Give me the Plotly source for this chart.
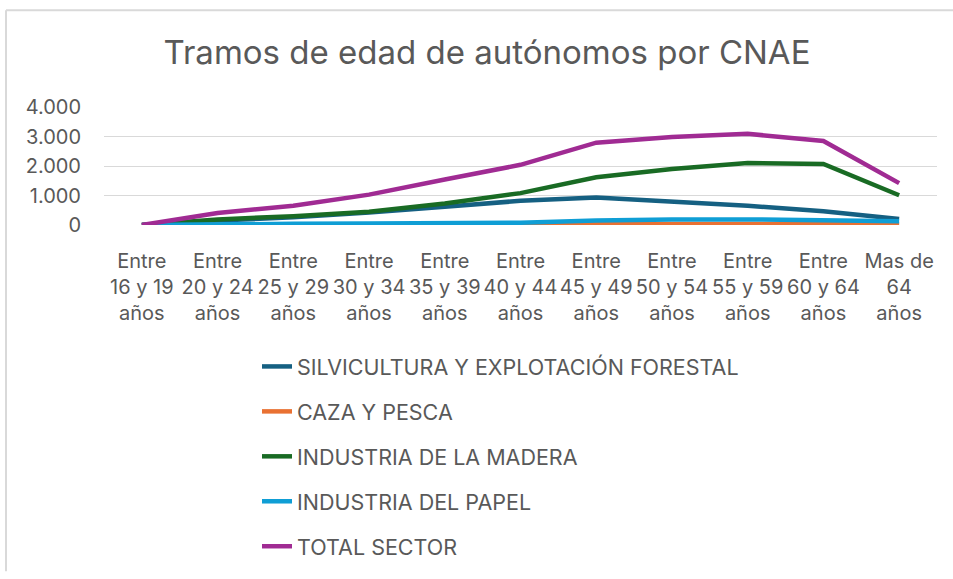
import plotly.graph_objects as go

categories = ["Entre<br>16 y 19<br>años", "Entre<br>20 y 24<br>años", "Entre<br>25 y 29<br>años",
              "Entre<br>30 y 34<br>años", "Entre<br>35 y 39<br>años", "Entre<br>40 y 44<br>años",
              "Entre<br>45 y 49<br>años", "Entre<br>50 y 54<br>años", "Entre<br>55 y 59<br>años",
              "Entre<br>60 y 64<br>años", "Mas de<br>64<br>años"]

silvicultura = [0, 150, 260, 420, 620, 820, 930, 800, 650, 470, 200]
caza_pesca = [0, 5, 10, 15, 20, 25, 35, 45, 45, 40, 15]
madera = [0, 190, 300, 450, 730, 1080, 1620, 1900, 2100, 2070, 1010]
papel = [0, 30, 40, 50, 60, 80, 150, 190, 190, 170, 130]
total = [0, 410, 655, 1030, 1540, 2040, 2790, 2980, 3090, 2850, 1420]

series = [
    ("SILVICULTURA Y EXPLOTACIÓN FORESTAL", silvicultura, "#156082"),
    ("CAZA Y PESCA", caza_pesca, "#E97132"),
    ("INDUSTRIA DE LA MADERA", madera, "#196B24"),
    ("INDUSTRIA DEL PAPEL", papel, "#0F9ED5"),
    ("TOTAL SECTOR", total, "#A02B93"),
]

fig = go.Figure()
for name, vals, col in series:
    fig.add_trace(go.Scatter(x=categories, y=vals, name=name, mode="lines",
                             line=dict(color=col, width=4.5), legendgroup=name))

txt = "#595959"
W, H = 953, 579
L, R, T, B = 104, 16, 107, 352
pw, ph = W - L - R, H - T - B

def px_x(p):
    return (p - L) / pw

def px_y(p):
    return (H - B - p) / ph

border = "#D9D9D9"
fig.add_shape(type="line", xref="paper", yref="paper", x0=px_x(6), x1=px_x(953),
              y0=px_y(8.5), y1=px_y(8.5), line=dict(color=border, width=2))
fig.add_shape(type="line", xref="paper", yref="paper", x0=px_x(6), x1=px_x(6),
              y0=px_y(8.5), y1=px_y(579), line=dict(color=border, width=2))

fig.update_layout(
    width=W, height=H,
    paper_bgcolor="white", plot_bgcolor="white",
    separators=",.",
    margin=dict(l=L, r=R, t=T, b=B),
    font=dict(family="Inter, Lato, sans-serif", color=txt, size=20),
    title=dict(text="Tramos de edad de autónomos por CNAE", xref="container", x=487 / W,
               xanchor="center", yref="container", y=1 - 52 / H, yanchor="middle",
               font=dict(size=33, color=txt, family="Inter, Lato, sans-serif")),
    xaxis=dict(showgrid=False, showline=False, zeroline=False, ticks="",
               tickfont=dict(size=20, color=txt, family="Inter, Lato, sans-serif"),
               ticklabelstandoff=22, tickangle=0, range=[-0.5, 10.5]),
    yaxis=dict(range=[0, 4000], dtick=1000, tickformat=",d", showgrid=True,
               gridcolor="#D9D9D9", gridwidth=1.2, zeroline=False, showline=False,
               ticklabelstandoff=22, tickfont=dict(size=20, color=txt)),
    legend=dict(orientation="v", x=px_x(257), xanchor="left",
                y=px_y(350), yanchor="top", font=dict(size=21.5, color=txt),
                tracegroupgap=14, traceorder="grouped"),
    showlegend=True,
)

fig.write_html("out.html", post_script="document.body.style.margin='0';",
               config={"displayModeBar": False})
